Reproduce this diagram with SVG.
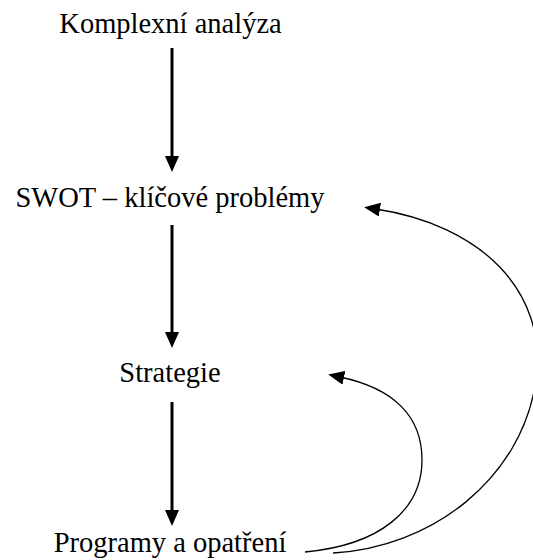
<svg xmlns="http://www.w3.org/2000/svg" width="533" height="560" viewBox="0 0 533 560">
<style>
.lbl{font-family:'Liberation Serif','DejaVu Serif',serif;font-size:28.5px;fill:#000;text-anchor:middle}
.thick{stroke:#000;stroke-width:3;fill:none}
.thin{stroke:#000;stroke-width:1.3;fill:none}
</style>
<defs>
<marker id="ah" markerUnits="userSpaceOnUse" markerWidth="16" markerHeight="14" refX="4" refY="7" orient="auto" viewBox="0 0 16 14">
<path d="M0,0 L16,7 L0,14 z" fill="#000"/>
</marker>
</defs>
<rect width="533" height="560" fill="#fff"/>
<g id="n1"><text class="lbl" font-family="Liberation Serif, serif" x="170.5" y="33">Komplexní analýza</text></g>
<g id="n2"><text class="lbl" font-family="Liberation Serif, serif" x="170" y="207">SWOT – klíčové problémy</text></g>
<g id="n3"><text class="lbl" font-family="Liberation Serif, serif" x="170" y="382">Strategie</text></g>
<g id="n4"><text class="lbl" font-family="Liberation Serif, serif" x="170" y="552">Programy a opatření</text></g>
<g id="connectors">
<path class="thick" d="M172,48 V160" marker-end="url(#ah)"/>
<path class="thick" d="M172,225 V336" marker-end="url(#ah)"/>
<path class="thick" d="M172,402 V514" marker-end="url(#ah)"/>
<path class="thin" d="M305,552 C380,545 422,510 422,460 C422,415 392,388 340,377" marker-end="url(#ah)"/>
<path class="thin" d="M333,553 C430,548 522,480 536,380 C548,290 480,225 376,209" marker-end="url(#ah)"/>
</g>
</svg>
